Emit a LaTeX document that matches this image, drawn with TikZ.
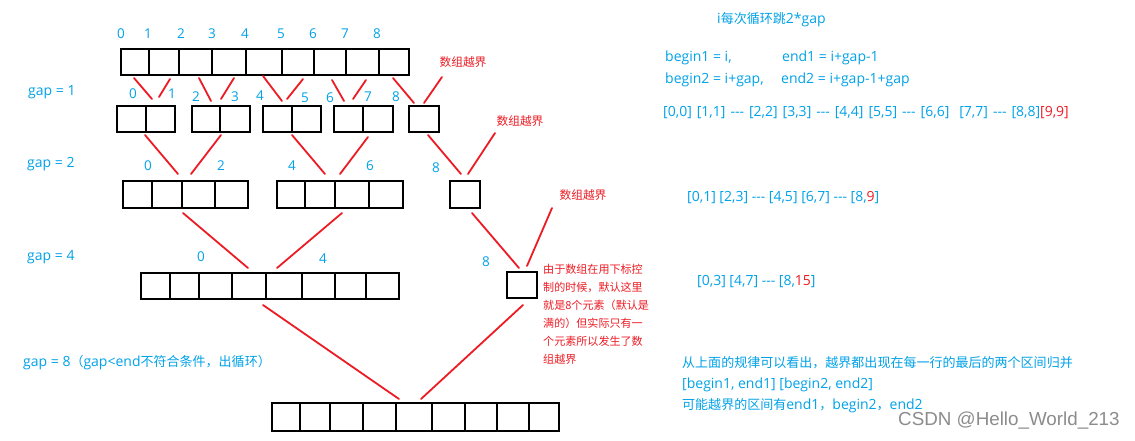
\documentclass[tikz,border=0pt]{standalone}
\usepackage{fontspec}
\setmainfont{Open Sans}
\newfontfamily\cjk[Scale=0.93]{Noto Sans CJK SC}
\newfontfamily\wmfont{Liberation Sans}
\definecolor{pblue}{HTML}{00A2E8}
\definecolor{pred}{HTML}{ED1C24}
\newcommand\dsh{-{}-{}-}
\begin{document}
\begin{tikzpicture}[x=1pt,y=-1pt,
  cell/.style={draw=black,line width=2.6pt},
  link/.style={draw=pred,line width=1.8pt,line cap=round},
  idx/.style={text=pblue,font=\fontsize{13.5}{15}\selectfont,inner sep=0pt},
  lbl/.style={text=pblue,font=\fontsize{14}{16}\selectfont,inner sep=0pt,anchor=west},
  warn/.style={text=pred,font=\cjk\fontsize{12.6}{14}\selectfont,inner sep=0pt},
  note/.style={text=pred,font=\cjk\fontsize{11.9}{13}\selectfont,inner sep=0pt,anchor=west}]
\useasboundingbox[fill=white] (0,0) rectangle (1135,440);
% rows of cells
\foreach \a/\b in {121/149,149/179,179/212,212/246,246/282,282/314,314/346,346/379,379/409}
  \draw[cell] (\a,49) rectangle (\b,75);
\foreach \a/\b in {117/146,146/175,192/220,220/250,263/292,292/321,334/363,363/393,409/439}
  \draw[cell] (\a,106) rectangle (\b,132);
\foreach \a/\b in {123/152,152/182,182/215,215/248,277/305,305/335,335/369,369/403,450/480}
  \draw[cell] (\a,181) rectangle (\b,208);
\foreach \a/\b in {141/170,170/199,199/232,232/266,266/302,302/335,335/366,366/399}
  \draw[cell] (\a,273) rectangle (\b,299);
\draw[cell] (507,272) rectangle (537,298);
\foreach \a/\b in {272/300,300/330,330/363,363/396,396/432,432/465,465/497,497/529,529/559}
  \draw[cell] (\a,403) rectangle (\b,431);
% index labels
\foreach \x [count=\i from 0] in {121,148,181,212,245,281,313,345,377}
  \node[idx] (t\i) at (\x,34) {\i};
\node[idx] (r0) at (133,94) {0};
\node[idx] (r1) at (172,94) {1};
\node[idx] (r2) at (196,97) {2};
\node[idx] (r3) at (235,97) {3};
\node[idx] (r4) at (260,96) {4};
\node[idx] (r5) at (305,98) {5};
\node[idx] (r6) at (330,98) {6};
\node[idx] (r7) at (368,97) {7};
\node[idx] (r8) at (396,97) {8};
\node[idx] (s0) at (148,166) {0};
\node[idx] (s2) at (221,166) {2};
\node[idx] (s4) at (292,166) {4};
\node[idx] (s6) at (370,166) {6};
\node[idx] (s8) at (436,168) {8};
\node[idx] (q0) at (201,257) {0};
\node[idx] (q4) at (323,259) {4};
\node[idx] (q8) at (486,262) {8};
% gap labels
\node[lbl] (gap1) at (28,92) {gap = 1};
\node[lbl] (gap2) at (27,164) {gap = 2};
\node[lbl] (gap4) at (27,257) {gap = 4};
\node[lbl] (gap8) at (23,363) {gap = 8{\cjk （}gap<end{\cjk 不符合条件，出循环）}};
% warnings
\node[warn] (w1) at (463,62) {数组越界};
\node[warn] (w2) at (520,121) {数组越界};
\node[warn] (w3) at (583,195) {数组越界};
\node[note] (n0) at (543,269) {由于数组在用下标控};
\node[note] (n1) at (543,287) {制的时候，默认这里};
\node[note] (n2) at (543,305) {就是8个元素（默认是};
\node[note] (n3) at (543,323) {满的）但实际只有一};
\node[note] (n4) at (543,341) {个元素所以发生了数};
\node[note] (n5) at (543,359) {组越界};
% connector end points
\foreach \n/\x/\y in {a1/134/78,a2/152/99,b1/170/79,b2/159/97,c1/199/78,c2/211/101,d1/234/78,d2/221/99,
  e1/263/76,e2/282/101,f1/303/79,f2/287/99,g1/332/80,g2/344/101,h1/366/80,h2/353/99,
  i1/393/78,i2/414/103,j1/442/77,j2/424/103,
  k1/145/135,k2/178/174,l1/221/135,l2/191/174,m1/292/135,m2/325/174,o1/368/137,o2/340/174,
  p1/428/135,p2/461/174,u1/495/133,u2/468/174,
  v1/183/213,v2/248/268,y1/342/213,y2/277/268,z1/472/213,z2/519/268,zz1/552/208,zz2/527/266,
  bl1/263/305,bl2/399/399,br1/523/305,br2/421/399}
  \coordinate (\n) at (\x,\y);
\foreach \s in {a,b,c,d,e,f,g,h,i,j,k,l,m,o,p,u,v,y,z,zz,bl,br}
  \draw[link] (\s1) -- (\s2);
% right side text
\node[lbl] (hdr) at (717,20) {i{\cjk 每次循环跳}2*gap};
\node[lbl] (b1) at (665,58) {begin1 = i,};
\node[lbl] (e1t) at (782,58) {end1 = i+gap-1};
\node[lbl] (b2) at (665,80) {begin2 = i+gap,};
\node[lbl] (e2t) at (781,80) {end2 = i+gap-1+gap};
\node[lbl] (iv1) at (663,113) {\spaceskip=5pt [0,0] [1,1] \dsh{} [2,2] [3,3] \dsh{} [4,4] [5,5] \dsh{} [6,6]\ \ [7,7] \dsh{} [8,8]\textcolor{pred}{[9,9]}};
\node[lbl] (iv2) at (687,198) {[0,1] [2,3] \dsh{} [4,5] [6,7] \dsh{} [8,\textcolor{pred}{9}]};
\node[lbl] (iv3) at (697,282) {[0,3] [4,7] \dsh{} [8,\textcolor{pred}{15}]};
\node[lbl] (c1t) at (682,363) {\cjk 从上面的规律可以看出，越界都出现在每一行的最后的两个区间归并};
\node[lbl] (c2t) at (682,385) {[begin1, end1] [begin2, end2]};
\node[lbl] (c3t) at (682,406) {{\cjk 可能越界的区间有}end1{\cjk ，}begin2{\cjk ，}end2};
\node[anchor=west,inner sep=0pt,text=black!45,font=\wmfont\fontsize{18.8}{20}\selectfont] (wm) at (898,421) {CSDN @Hello\_World\_213};
\end{tikzpicture}
\end{document}
